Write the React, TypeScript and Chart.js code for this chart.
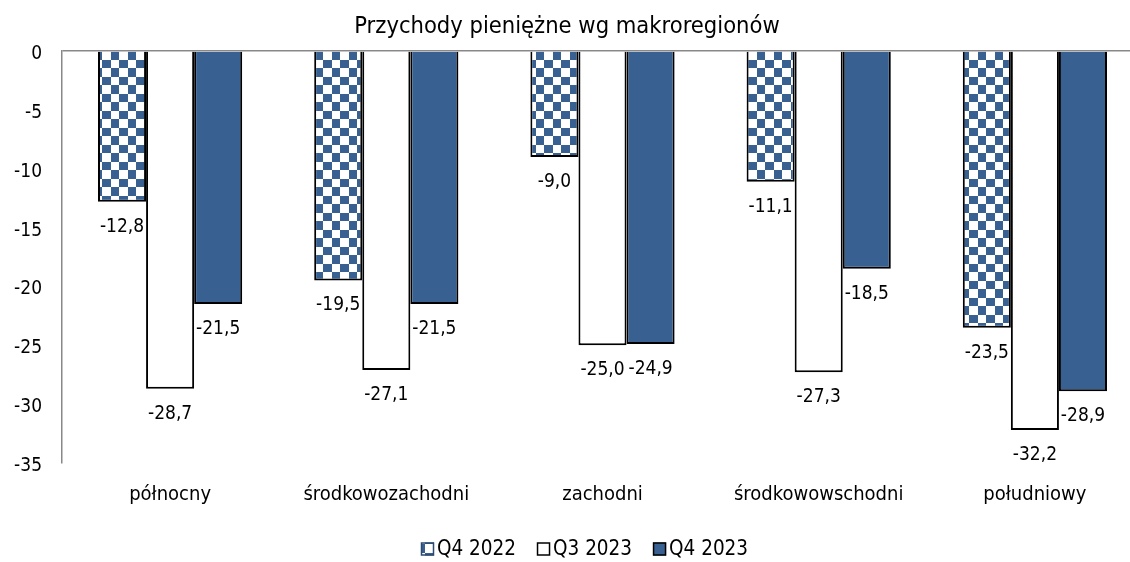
import React, { useEffect, useRef } from "react";
import { Chart, registerables } from "chart.js";

Chart.register(...registerables);

const categories = ["północny", "środkowozachodni", "zachodni", "środkowowschodni", "południowy"];
const seriesNames = ["Q4 2022", "Q3 2023", "Q4 2023"];
const q4_2022 = [-12.8, -19.5, -9.0, -11.1, -23.5];
const q3_2023 = [-28.7, -27.1, -25.0, -27.3, -32.2];
const q4_2023 = [-21.5, -21.5, -24.9, -18.5, -28.9];
const yTicks = [0, -5, -10, -15, -20, -25, -30, -35];
const title = "Przychody pieniężne wg makroregionów";

const BLUE = "#386191";
const FONT = 'Tahoma, "DejaVu Sans Condensed", "DejaVu Sans", sans-serif';

function makeChecker(): CanvasPattern | string {
  const c = document.createElement("canvas");
  c.width = 17;
  c.height = 17;
  const g = c.getContext("2d");
  if (!g) return BLUE;
  g.fillStyle = "#ffffff";
  g.fillRect(0, 0, 17, 17);
  g.fillStyle = BLUE;
  g.fillRect(9, 0, 8, 9);
  g.fillRect(0, 9, 9, 8);
  const p = g.createPattern(c, "repeat");
  return p || BLUE;
}

const fmt = (v: number) => v.toFixed(1).replace(".", ",");

export default function App() {
  const ref = useRef<HTMLCanvasElement | null>(null);

  useEffect(() => {
    if (!ref.current) return;
    const checker = makeChecker();

    const titlePlugin = {
      id: "customTitle",
      afterDraw(chart: any) {
        const ctx = chart.ctx;
        ctx.save();
        ctx.font = `23.5px ${FONT}`;
        ctx.fillStyle = "#000";
        ctx.textAlign = "center";
        ctx.textBaseline = "middle";
        ctx.fillText(title, 567, 27);
        ctx.restore();
      },
    };

    const legendPlugin = {
      id: "customLegend",
      afterDraw(chart: any) {
        const ctx = chart.ctx;
        ctx.save();
        ctx.font = `20.5px ${FONT}`;
        ctx.textBaseline = "middle";
        ctx.textAlign = "left";
        const box = 13;
        const gap = 3;
        const itemGap = 21;
        const widths = chart.data.datasets.map((d: any) => ctx.measureText(d.label).width);
        const total = widths.reduce((a: number, w: number) => a + box + gap + w, 0) + itemGap * (widths.length - 1);
        let x = Math.round(584.5 - total / 2);
        const cy = 549;
        chart.data.datasets.forEach((d: any, i: number) => {
          ctx.fillStyle = d.backgroundColor;
          ctx.fillRect(x, cy - box / 2, box, box);
          ctx.strokeStyle = i === 0 ? "#2a4a70" : "#000";
          ctx.lineWidth = 1.5;
          ctx.strokeRect(x + 0.5, cy - box / 2 + 0.5, box - 1, box - 1);
          ctx.fillStyle = "#000";
          ctx.fillText(d.label, x + box + gap, cy + 1);
          x += box + gap + widths[i] + itemGap;
        });
        ctx.restore();
      },
    };

    const labelPlugin = {
      id: "valueLabels",
      afterDatasetsDraw(chart: any) {
        const ctx = chart.ctx;
        ctx.save();
        ctx.font = `19px ${FONT}`;
        ctx.fillStyle = "#000";
        ctx.textAlign = "center";
        ctx.textBaseline = "middle";
        chart.data.datasets.forEach((ds: any, di: number) => {
          const meta = chart.getDatasetMeta(di);
          meta.data.forEach((el: any, i: number) => {
            const v = ds.data[i] as number;
            ctx.fillText(fmt(v), el.x, el.y + 25);
          });
        });
        ctx.restore();
      },
    };

    const chart = new Chart(ref.current, {
      type: "bar",
      data: {
        labels: categories,
        datasets: [
          { label: seriesNames[0], data: q4_2022, backgroundColor: checker as any, borderColor: "#000", borderWidth: 2 },
          { label: seriesNames[1], data: q3_2023, backgroundColor: "#ffffff", borderColor: "#000", borderWidth: 2 },
          { label: seriesNames[2], data: q4_2023, backgroundColor: BLUE, borderColor: "#000", borderWidth: 2 },
        ],
      },
      options: {
        responsive: false,
        animation: false,
        devicePixelRatio: 1,
        layout: { padding: { top: 51, right: 17, left: 0, bottom: 0 } },
        datasets: { bar: { categoryPercentage: 0.667, barPercentage: 1 } },
        plugins: {
          title: { display: false },
          tooltip: { enabled: false },
          legend: { display: false },
        },
        scales: {
          x: {
            grid: { display: false, drawTicks: false },
            border: { display: false },
            ticks: { font: { family: FONT, size: 20 }, color: "#000", padding: 20 },
            afterFit(scale: any) {
              scale.height = 99;
            },
          },
          y: {
            min: -35,
            max: 0,
            afterBuildTicks(scale: any) {
              scale.ticks = yTicks.map((v) => ({ value: v }));
            },
            grid: {
              drawTicks: false,
              color: (ctx: any) => (ctx.tick && ctx.tick.value === 0 ? "#888888" : "rgba(0,0,0,0)"),
              lineWidth: 1.5,
            },
            border: { display: true, color: "#888888", width: 1.5 },
            ticks: {
              font: { family: FONT, size: 19 },
              color: "#000",
              padding: 20,
              labelOffset: 3,
              callback: (v: any) => String(v),
            },
            afterFit(scale: any) {
              scale.width = 62;
            },
          },
        },
      },
      plugins: [titlePlugin, labelPlugin, legendPlugin],
    });

    return () => chart.destroy();
  }, []);

  return (
    <div style={{ position: "absolute", left: 0, top: 0, width: 1130, height: 562, overflow: "hidden", background: "#fff" }}>
      <canvas ref={ref} width={1160} height={562} style={{ display: "block" }} />
    </div>
  );
}
